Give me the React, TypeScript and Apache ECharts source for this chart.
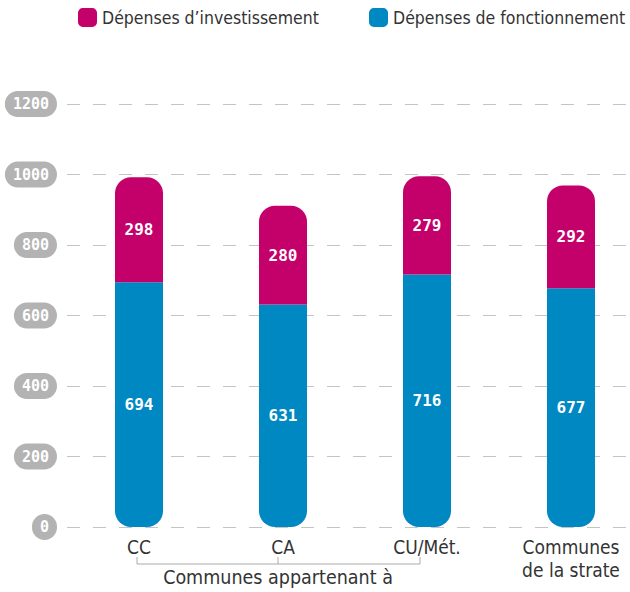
import React, { useEffect, useRef } from "react";
import * as echarts from "echarts";

const categories = ["CC", "CA", "CU/Mét.", "Communes\nde la strate"];
const fonctionnement = [694, 631, 716, 677];
const investissement = [298, 280, 279, 292];
const yTicks = [0, 200, 400, 600, 800, 1000, 1200];
const groupLabel = "Communes appartenant à";
const SERIES_INV = "Dépenses d’investissement";
const SERIES_FONC = "Dépenses de fonctionnement";

const MAGENTA = "#c4006b";
const BLUE = "#0088c3";
const TXT_FONT = "'DejaVu Sans Condensed', sans-serif";
const NUM_FONT = "'DejaVu Sans Mono', monospace";

export default function App() {
  const ref = useRef<HTMLDivElement>(null);
  useEffect(() => {
    if (!ref.current) return;
    const chart = echarts.init(ref.current, null, { renderer: "svg" });
    const barLabel = {
      show: true,
      position: "inside",
      color: "#fff",
      fontFamily: NUM_FONT,
      fontWeight: "bold",
      fontSize: 16,
    };
    const legendBase = {
      top: 8,
      icon: "roundRect",
      itemWidth: 19,
      itemHeight: 19,
      padding: 0,
      textStyle: { fontFamily: TXT_FONT, fontSize: 17.5, color: "#333" },
    };
    chart.setOption({
      animation: false,
      legend: [
        { ...legendBase, left: 78, data: [SERIES_INV] },
        { ...legendBase, left: 369, data: [SERIES_FONC] },
      ],
      grid: {
        left: 67,
        right: -13,
        top: 104,
        bottom: 65,
        outerBoundsMode: "none",
        containLabel: false,
      },
      xAxis: {
        type: "category",
        data: categories,
        axisLine: { show: false },
        axisTick: { show: false },
        axisLabel: {
          margin: 8,
          fontFamily: TXT_FONT,
          fontSize: 19,
          color: "#333",
          lineHeight: 23,
          verticalAlign: "top",
        },
      },
      yAxis: {
        type: "value",
        min: yTicks[0],
        max: yTicks[yTicks.length - 1],
        interval: 200,
        axisLine: { show: false },
        axisTick: { show: false },
        splitLine: { lineStyle: { color: "#c4c4c4", type: [13, 13], width: 1.2 } },
        axisLabel: {
          margin: 10,
          formatter: (v: number) => String(v),
          color: "#fff",
          fontFamily: NUM_FONT,
          fontWeight: "bold",
          fontSize: 15,
          backgroundColor: "#b3b3b3",
          borderRadius: 13,
          padding: [6, 8, 5, 8],
        },
      },
      series: [
        {
          name: SERIES_FONC,
          type: "bar",
          stack: "total",
          barWidth: 48,
          data: fonctionnement,
          itemStyle: { color: BLUE, borderRadius: [0, 0, 16, 16] },
          label: barLabel,
        },
        {
          name: SERIES_INV,
          type: "bar",
          stack: "total",
          barWidth: 48,
          data: investissement,
          itemStyle: { color: MAGENTA, borderRadius: [16, 16, 0, 0] },
          label: barLabel,
        },
      ],
      graphic: [
        {
          type: "polyline",
          shape: {
            points: [
              [137, 557],
              [137, 564],
              [420, 564],
              [420, 557],
            ],
          },
          style: { stroke: "#aaa", lineWidth: 1, fill: null },
        },
        {
          type: "line",
          shape: { x1: 278, y1: 557, x2: 278, y2: 564 },
          style: { stroke: "#aaa", lineWidth: 1 },
        },
        {
          type: "text",
          x: 278,
          y: 567,
          style: {
            text: groupLabel,
            fontFamily: TXT_FONT,
            fontSize: 19.5,
            fill: "#333",
            align: "center",
            verticalAlign: "top",
          },
        },
      ],
    });
    return () => chart.dispose();
  }, []);
  return (
    <div
      ref={ref}
      style={{ position: "absolute", left: 0, top: 0, width: 630, height: 592 }}
    />
  );
}
